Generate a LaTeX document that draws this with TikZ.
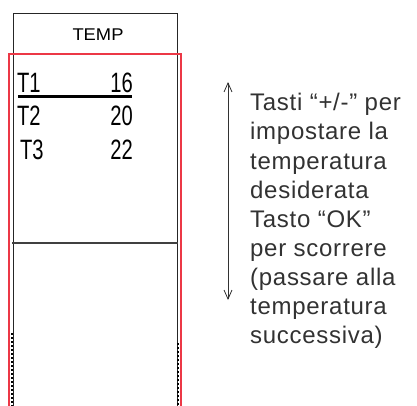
\documentclass[tikz,border=0pt]{standalone}
\usepackage{fontspec}
\usepackage{tikz}
\usetikzlibrary{arrows.meta}
\definecolor{redline}{RGB}{236,56,70}
\definecolor{hintgray}{RGB}{50,50,50}
\newfontfamily\lcdfamily{Liberation Sans}
\newfontfamily\hintfamily[LetterSpace=3]{Liberation Sans}
\newcommand*{\lcdfont}{\lcdfamily\fontsize{28}{28}\selectfont}
\newcommand*{\titlefont}{\lcdfamily\fontsize{17}{17}\selectfont}
\newcommand*{\hintfont}{\hintfamily\fontsize{24}{24}\selectfont}
\tikzset{%
  lcd/.style={inner sep=0pt, font=\lcdfont, xscale=0.72, transform shape},% display digits
  title/.style={inner sep=0pt, anchor=base, font=\titlefont, xscale=1.08, transform shape},
  hint/.style={inner sep=0pt, anchor=base west, font=\hintfont, text=hintgray},% side notes
  frame/.style={line width=1pt, black!85},
  window/.style={line width=1.8pt, redline}
}

\begin{document}
\begin{tikzpicture}[x=1pt, y=-1pt]
\useasboundingbox (0,0) rectangle (417,406);

% display housing
\draw[frame] (13,406) -- (13,14) -- (177,14) -- (177,406);
\draw[frame] (13,54) -- (177,54);
\draw[line width=1.6pt, black!75] (12,243) -- (178,243);
\draw[line width=2pt, dash pattern=on 2pt off 2pt] (12,333) -- (12,406);
\draw[line width=2pt, dash pattern=on 2pt off 2pt] (178,343) -- (178,406);

% red window
\draw[window] (9,406) -- (9,54) -- (181,54) -- (181,406);

\node[title] (temp) at (98,41) {TEMP};

\node[lcd, anchor=base west] (t1) at (17,93) {T1};
\node[lcd, anchor=base east] (v1) at (133,93) {16};
\node[lcd, anchor=base west] (t2) at (17,126) {T2};
\node[lcd, anchor=base east] (v2) at (133,126) {20};
\node[lcd, anchor=base west] (t3) at (20,160) {T3};
\node[lcd, anchor=base east] (v3) at (133,160) {22};
\draw[line width=3pt] (18,97) -- (132,97);

% scroll arrow
\coordinate (up) at (228,82);
\coordinate (down) at (228,300);
\draw[{Straight Barb[length=9pt,width=8pt]}-{Straight Barb[length=9pt,width=8pt]}, line width=0.8pt, hintgray] (up) -- (down);

\node[hint] (l1) at (250,111) {Tasti “+/-” per};
\node[hint] (l2) at (250,140) {impostare la};
\node[hint] (l3) at (250,169) {temperatura};
\node[hint] (l4) at (250,198) {desiderata};
\node[hint] (l5) at (250,227) {Tasto “OK”};
\node[hint] (l6) at (250,256) {per scorrere};
\node[hint] (l7) at (250,285) {(passare alla};
\node[hint] (l8) at (250,314) {temperatura};
\node[hint] (l9) at (250,343) {successiva)};
\end{tikzpicture}
\end{document}
